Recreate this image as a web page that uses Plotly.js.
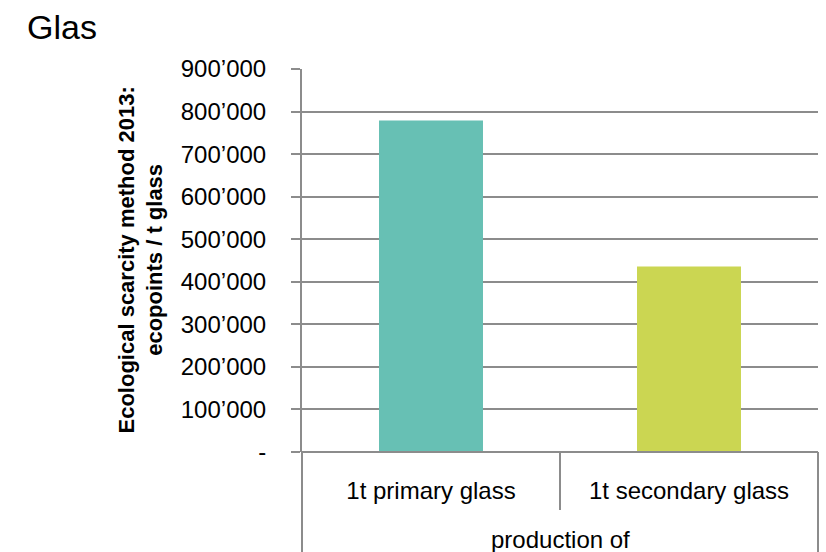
<!DOCTYPE html>
<html>
<head>
<meta charset="utf-8">
<script src="https://cdn.plot.ly/plotly-3.0.1.min.js"></script>
<style>html,body{margin:0;padding:0;background:#fff;}#chart{width:826px;height:552px;}</style>
</head>
<body>
<div id="chart"></div>
<script>
const categories = ["1t primary glass", "1t secondary glass"];
const groupLabel = "production of";
const values = [779000, 436000];
const barColors = ["#67C0B4", "#CBD652"];
const yTickVals = [0, 100000, 200000, 300000, 400000, 500000, 600000, 700000, 800000, 900000];
const yTickText = ["-", "100’000", "200’000", "300’000", "400’000", "500’000", "600’000", "700’000", "800’000", "900’000"];
const chartTitle = "Glas";
const yTitle = "Ecological scarcity method 2013:<br>ecopoints / t glass";

const FONT = "Liberation Sans, Arial, sans-serif";
const GRID = "#8c8c8c";
const labelDepth = 58 / 383;
const bottomDepth = 110 / 383;

const trace = {
  type: "bar",
  x: categories,
  y: values,
  marker: {color: barColors, line: {width: 0}},
  hoverinfo: "x+y"
};

const layout = {
  width: 826,
  height: 552,
  margin: {l: 302, r: 8, t: 69, b: 100},
  paper_bgcolor: "#ffffff",
  plot_bgcolor: "#ffffff",
  showlegend: false,
  bargap: 0.597,
  font: {family: FONT, color: "#000000", size: 24},
  title: {
    text: chartTitle,
    font: {family: FONT, size: 34, color: "#000000"},
    xref: "container", yref: "container",
    x: 27 / 826, xanchor: "left",
    y: 1 - 27 / 552, yanchor: "middle"
  },
  xaxis: {
    type: "category",
    showgrid: false,
    zeroline: false,
    showline: false,
    ticks: "",
    ticklabelstandoff: 22,
    tickfont: {family: FONT, size: 24, color: "#000000"},
    fixedrange: true
  },
  yaxis: {
    range: [0, 900000],
    tickvals: yTickVals,
    ticktext: yTickText,
    showgrid: true,
    gridcolor: GRID,
    gridwidth: 2,
    zeroline: false,
    showline: true,
    linecolor: GRID,
    linewidth: 2,
    ticks: "outside",
    ticklen: 9,
    tickwidth: 2,
    tickcolor: GRID,
    ticklabelstandoff: 20,
    tickfont: {family: FONT, size: 24, color: "#000000"},
    fixedrange: true
  },
  annotations: [
    {
      text: yTitle,
      xref: "paper", yref: "paper",
      x: (140 - 302) / 516, y: 0.5,
      xanchor: "center", yanchor: "middle",
      textangle: -90,
      showarrow: false,
      font: {family: FONT, size: 22, color: "#000000", weight: "bold"}
    },
    {
      text: groupLabel,
      xref: "paper", yref: "paper",
      x: 0.5, y: -(87 / 383),
      xanchor: "center", yanchor: "middle",
      showarrow: false,
      font: {family: FONT, size: 24, color: "#000000"}
    }
  ],
  shapes: [
    {type: "line", xref: "paper", yref: "paper", x0: 0, x1: 0, y0: 0, y1: -bottomDepth, line: {color: GRID, width: 2}},
    {type: "line", xref: "paper", yref: "paper", x0: 1, x1: 1, y0: 0, y1: -bottomDepth, line: {color: GRID, width: 2}},
    {type: "line", xref: "x", yref: "paper", x0: 0.5, x1: 0.5, y0: 0, y1: -labelDepth, line: {color: GRID, width: 2}},
    {type: "line", xref: "paper", yref: "paper", x0: 0, x1: 1, y0: 0, y1: 0, line: {color: GRID, width: 2}}
  ]
};

Plotly.newPlot("chart", [trace], layout, {displayModeBar: false, staticPlot: true});
</script>
</body>
</html>
